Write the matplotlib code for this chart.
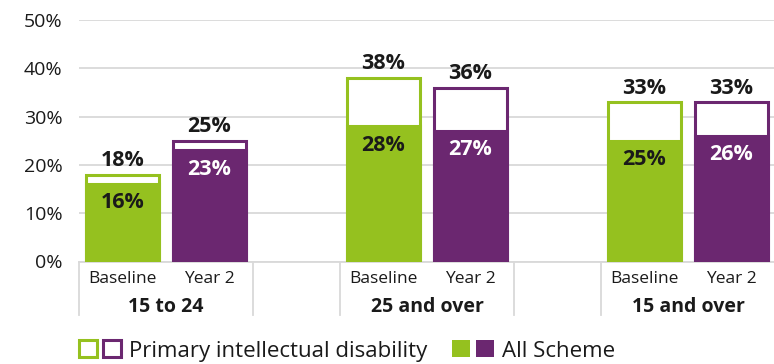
import matplotlib
matplotlib.use("Agg")
import matplotlib.pyplot as plt
from matplotlib.patches import Patch
from matplotlib.legend_handler import HandlerTuple
from matplotlib.transforms import blended_transform_factory

plt.rcParams["font.family"] = ["Open Sans", "DejaVu Sans"]

GROUPS = ["15 to 24", "25 and over", "15 and over"]
PERIODS = ["Baseline", "Year 2"]
PRIMARY_ID = [18, 25, 38, 36, 33, 33]     # outline bars
ALL_SCHEME = [16, 23, 28, 27, 25, 26]     # filled bars
YTICKS = [0, 10, 20, 30, 40, 50]

GREEN = "#95C11F"
PURPLE = "#6B2770"
GRID = "#D9D9D9"
TEXT = "#1A1A1A"

W, H = 774, 364
AX_L, AX_R, AX_T, AX_B = 79, 774, 20, 261.5   # axes box in pixels
SLOT = 87.0                                   # one category slot in pixels

fig = plt.figure(figsize=(W / 100, H / 100), dpi=100)
ax = fig.add_axes([AX_L / W, 1 - AX_B / H, (AX_R - AX_L) / W, (AX_B - AX_T) / H])

# slots: 2 bars per group, one empty slot between groups
xs = [g * 3 + p for g in range(len(GROUPS)) for p in range(len(PERIODS))]
cols = [GREEN, PURPLE] * len(GROUPS)
bw = 0.84
lw = 2.2

for x, v, c in zip(xs, PRIMARY_ID, cols):
    ax.bar(x, v, width=bw, facecolor="white", edgecolor=c, linewidth=lw, zorder=2)
for x, v, c in zip(xs, ALL_SCHEME, cols):
    ax.bar(x, v, width=bw, facecolor=c, edgecolor=c, linewidth=lw, zorder=3)

for x, v in zip(xs, PRIMARY_ID):
    ax.annotate(f"{v}%", (x, v), xytext=(0, 2.5), textcoords="offset points",
                ha="center", va="bottom", fontsize=15.5, fontweight="bold", color=TEXT)
for x, v, c in zip(xs, ALL_SCHEME, cols):
    ax.annotate(f"{v}%", (x, v), xytext=(0, -13.5), textcoords="offset points",
                ha="center", va="center", fontsize=15.5, fontweight="bold",
                color=TEXT if c == GREEN else "white", zorder=4)

ax.set_xlim(-0.5, -0.5 + (AX_R - AX_L) / SLOT)
ax.set_ylim(0, 50)
ax.set_yticks(YTICKS)
ax.set_yticklabels([f"{t}%" for t in YTICKS], fontsize=14, color=TEXT)
ax.tick_params(axis="y", length=0, pad=12)
ax.set_xticks([])
ax.grid(axis="y", color=GRID, linewidth=1.3, zorder=0)
ax.set_axisbelow(True)
for s in ["top", "right", "left"]:
    ax.spines[s].set_visible(False)
ax.spines["bottom"].set_color(GRID)
ax.spines["bottom"].set_linewidth(1.3)

# multi-level category axis below the plot
ax_h = AX_B - AX_T
def yfrac(py):
    return -(py - AX_B) / ax_h

tr = blended_transform_factory(ax.transData, ax.transAxes)
for x in xs:
    ax.text(x, yfrac(279), PERIODS[x % 3], transform=tr, ha="center", va="center",
            fontsize=12.5, color=TEXT)
for g, name in enumerate(GROUPS):
    ax.text(g * 3 + 0.5, yfrac(307), name, transform=tr, ha="center", va="center",
            fontsize=14, fontweight="bold", color=TEXT)
for xb in [-0.5, 1.5, 2.5, 4.5, 5.5]:
    ax.plot([xb, xb], [0, yfrac(315)], transform=tr, color=GRID, lw=1.3, clip_on=False)

# legend
h_out = tuple(Patch(facecolor="white", edgecolor=c, linewidth=2.2) for c in (GREEN, PURPLE))
h_fill = tuple(Patch(facecolor=c, edgecolor=c, linewidth=0) for c in (GREEN, PURPLE))
fig.legend([h_out, h_fill], ["Primary intellectual disability", "All Scheme"],
           handler_map={tuple: HandlerTuple(ndivide=None, pad=0.27)},
           loc="center left", bbox_to_anchor=(AX_L / W, 1 - 351 / H),
           ncols=2, frameon=False, fontsize=16, borderpad=0, borderaxespad=0,
           handlelength=1.9, handleheight=0.8, handletextpad=0.36,
           columnspacing=1.1, labelcolor=TEXT)

fig.savefig("out.png", dpi=100)
